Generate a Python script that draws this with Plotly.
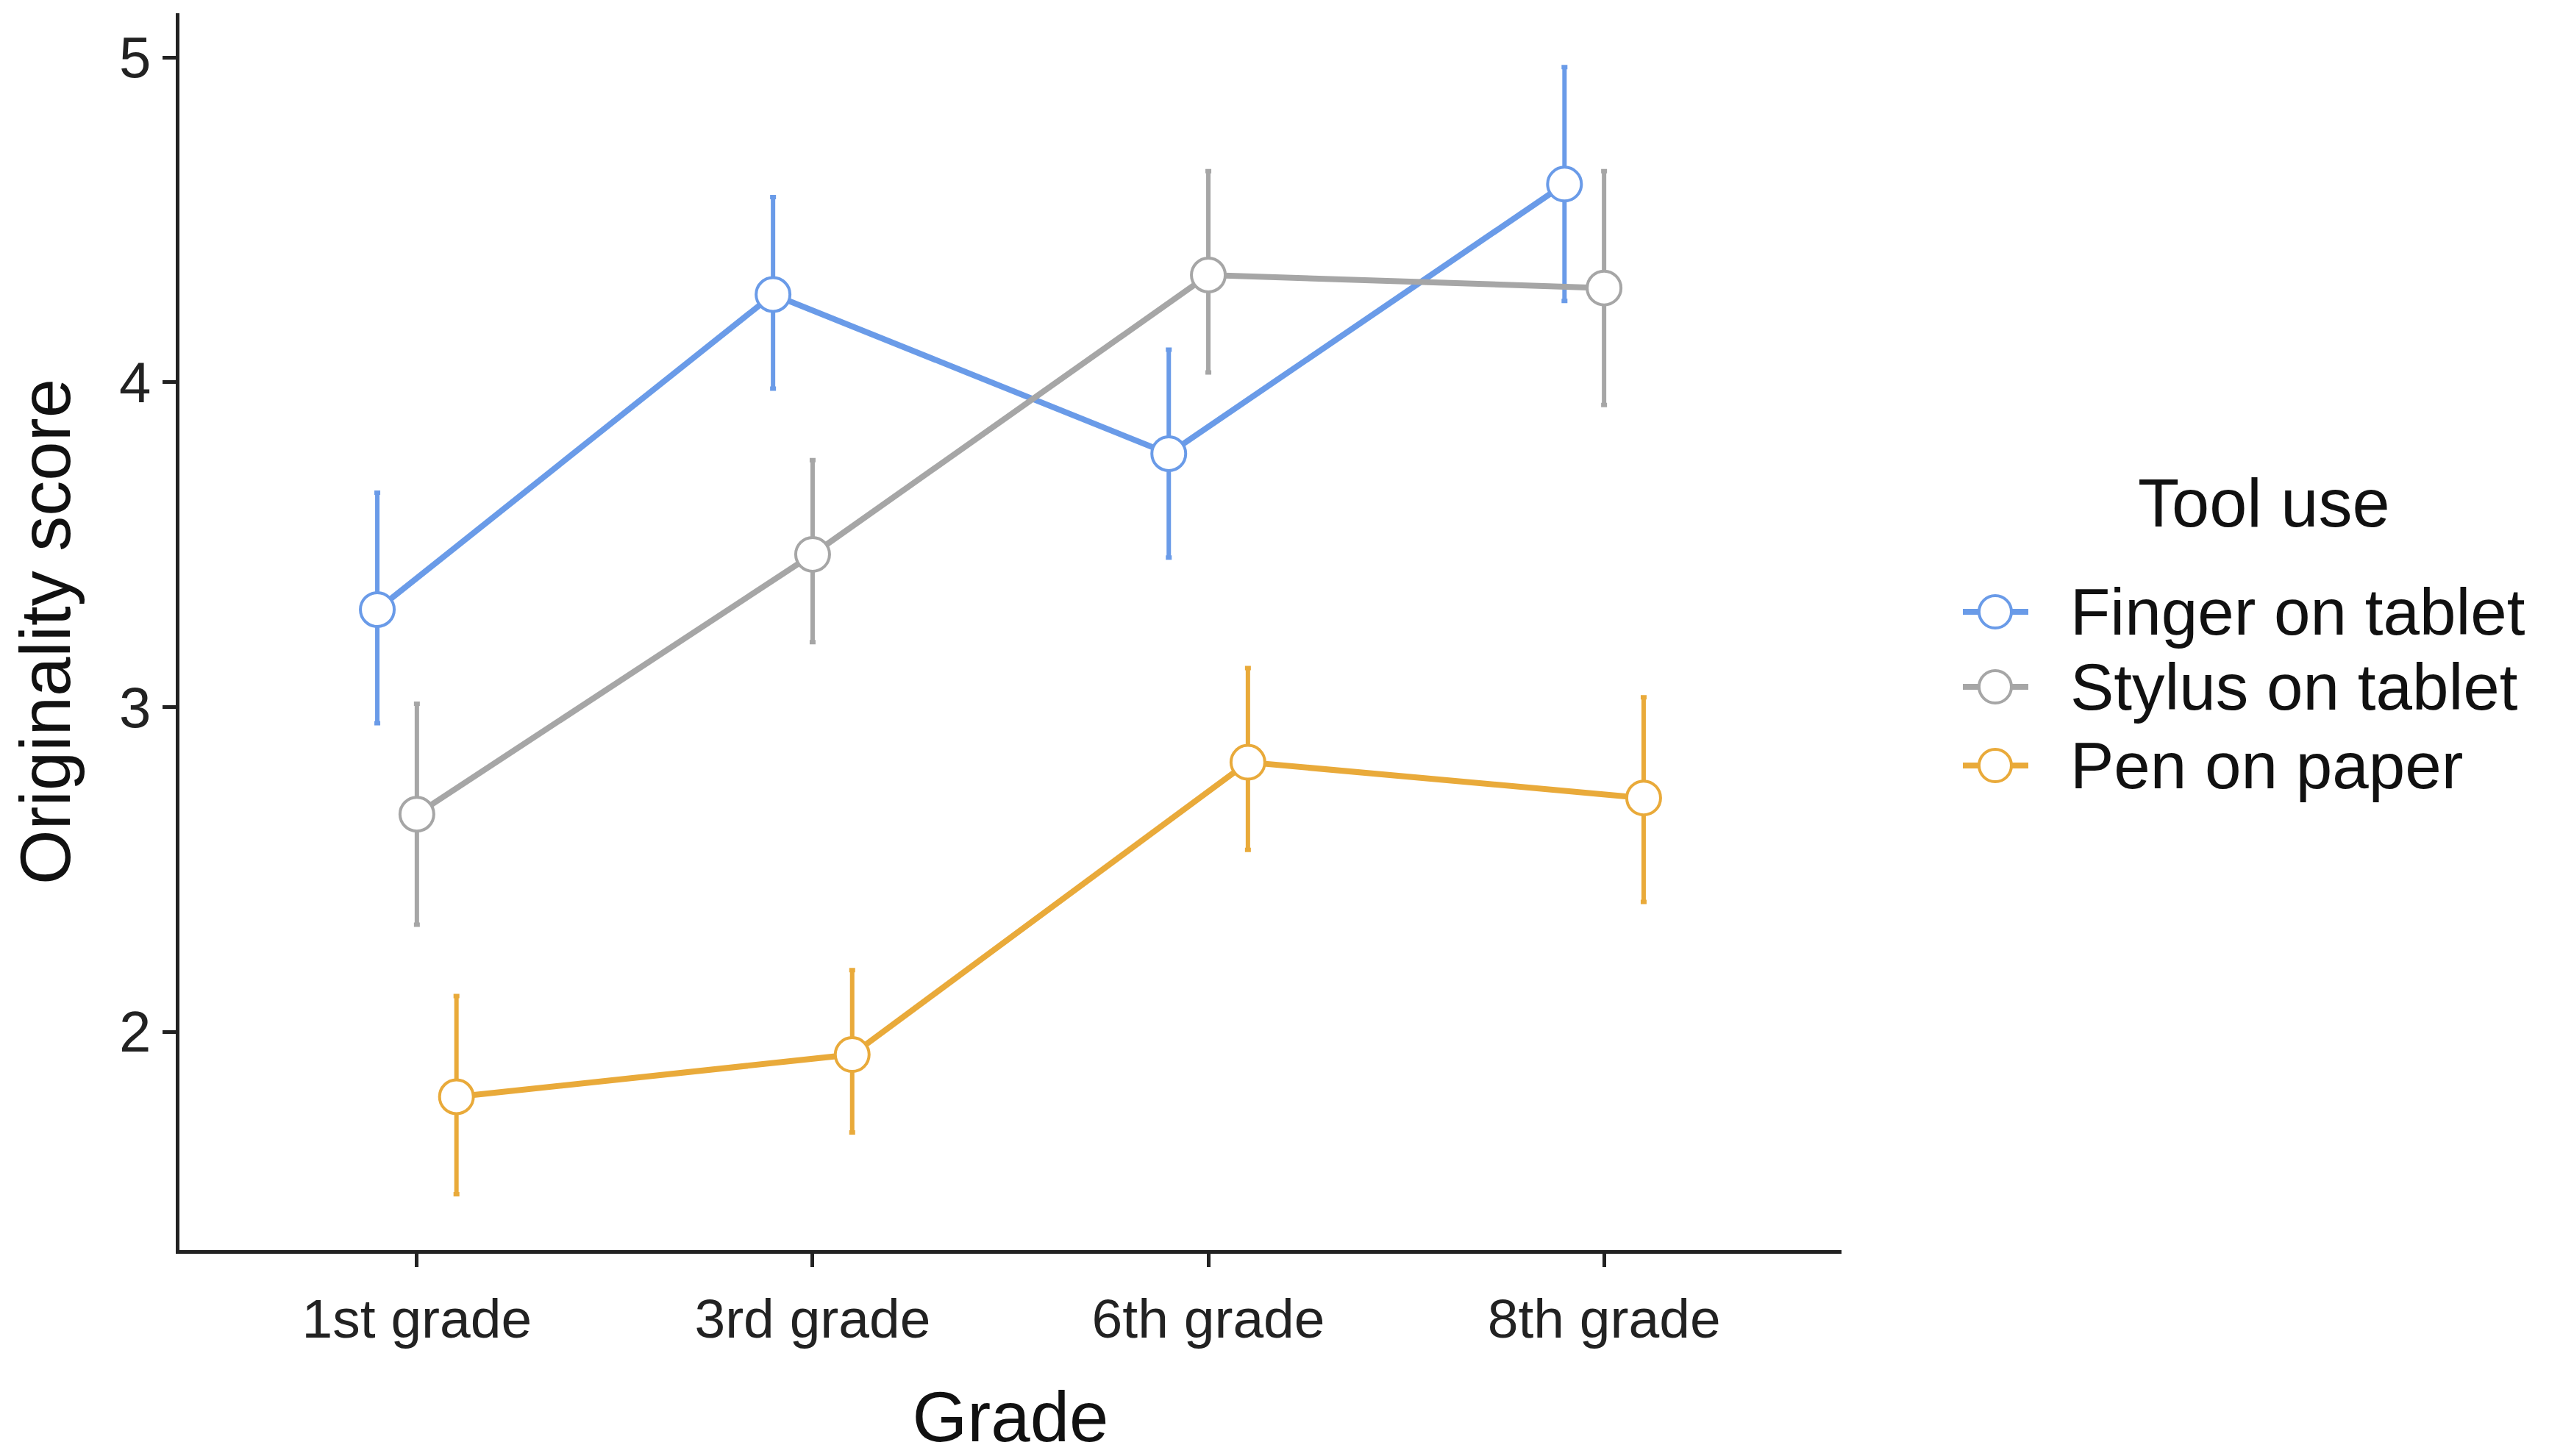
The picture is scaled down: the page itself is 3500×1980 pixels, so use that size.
import plotly.graph_objects as go

# data
grades = ["1st grade", "3rd grade", "6th grade", "8th grade"]
tools = ["Finger on tablet", "Stylus on tablet", "Pen on paper"]

finger_mean = [3.30, 4.27, 3.78, 4.61]
finger_hi = [3.66, 4.57, 4.10, 4.97]
finger_lo = [2.95, 3.98, 3.46, 4.25]

stylus_mean = [2.67, 3.47, 4.33, 4.29]
stylus_hi = [3.01, 3.76, 4.65, 4.65]
stylus_lo = [2.33, 3.20, 4.03, 3.93]

pen_mean = [1.80, 1.93, 2.83, 2.72]
pen_hi = [2.11, 2.19, 3.12, 3.03]
pen_lo = [1.50, 1.69, 2.56, 2.40]

colors = ["#6A9BE8", "#A6A6A6", "#E9AA3A"]
dodge = [-0.1, 0.0, 0.1]

W, H = 3500, 1980
L, R, T, B = 236, 2496, 10, 1692
FONT = "Liberation Sans, Arial, sans-serif"


def px(x):
    return (x - L) / (R - L)


def py(y):
    return (B - y) / (B - T)


fig = go.Figure()
series = [(finger_mean, finger_hi, finger_lo),
          (stylus_mean, stylus_hi, stylus_lo),
          (pen_mean, pen_hi, pen_lo)]
for i, (m, hi, lo) in enumerate(series):
    fig.add_trace(go.Scatter(
        x=[k + dodge[i] for k in range(len(grades))],
        y=m,
        mode="lines+markers",
        name=tools[i],
        showlegend=False,
        line=dict(color=colors[i], width=8),
        marker=dict(size=46, color="white", line=dict(color=colors[i], width=4)),
        error_y=dict(type="data", symmetric=False,
                     array=[h - v for h, v in zip(hi, m)],
                     arrayminus=[v - l for l, v in zip(lo, m)],
                     color=colors[i], thickness=6, width=4),
    ))

# legend built by hand so the glyphs match the size of the plotted points
fig.add_annotation(x=px(3071), y=py(676), xref="paper", yref="paper",
                   text="Tool use", showarrow=False, xanchor="center",
                   font=dict(family=FONT, size=92, color="#111"))
rows = [824, 926, 1033]
for i, name in enumerate(tools):
    fig.add_shape(type="line", xref="paper", yref="paper",
                  x0=px(2661), x1=px(2750), y0=py(rows[i]), y1=py(rows[i]),
                  line=dict(color=colors[i], width=8))
    fig.add_shape(type="circle", xref="paper", yref="paper",
                  xsizemode="pixel", ysizemode="pixel",
                  xanchor=px(2705), yanchor=py(rows[i]),
                  x0=-22, x1=22, y0=-22, y1=22,
                  fillcolor="white", line=dict(color=colors[i], width=4))
    fig.add_annotation(x=px(2805), y=py(rows[i]), xref="paper", yref="paper",
                       text=name, showarrow=False, xanchor="left",
                       font=dict(family=FONT, size=89, color="#111"))

fig.update_layout(
    width=W, height=H,
    margin=dict(l=L, r=W - R, t=T, b=H - B),
    plot_bgcolor="white", paper_bgcolor="white",
    font=dict(family=FONT, color="#111"),
)
fig.update_xaxes(
    range=[-0.6, 3.6], tickvals=list(range(len(grades))), ticktext=grades,
    showgrid=False, zeroline=False,
    showline=True, linecolor="#222", linewidth=5,
    ticks="outside", ticklen=18, tickwidth=5, tickcolor="#222",
    tickfont=dict(size=75, color="#222"), ticklabelstandoff=6,
    title=dict(text="Grade", font=dict(size=96, color="#111"), standoff=60),
)
fig.update_yaxes(
    range=[1.328, 5.136], tickvals=[2, 3, 4, 5],
    showgrid=False, zeroline=False,
    showline=True, linecolor="#222", linewidth=5,
    ticks="outside", ticklen=18, tickwidth=5, tickcolor="#222",
    tickfont=dict(size=78, color="#222"),
    title=dict(text="Originality score", font=dict(size=96, color="#111"), standoff=58),
)

fig.write_html("out.html")
